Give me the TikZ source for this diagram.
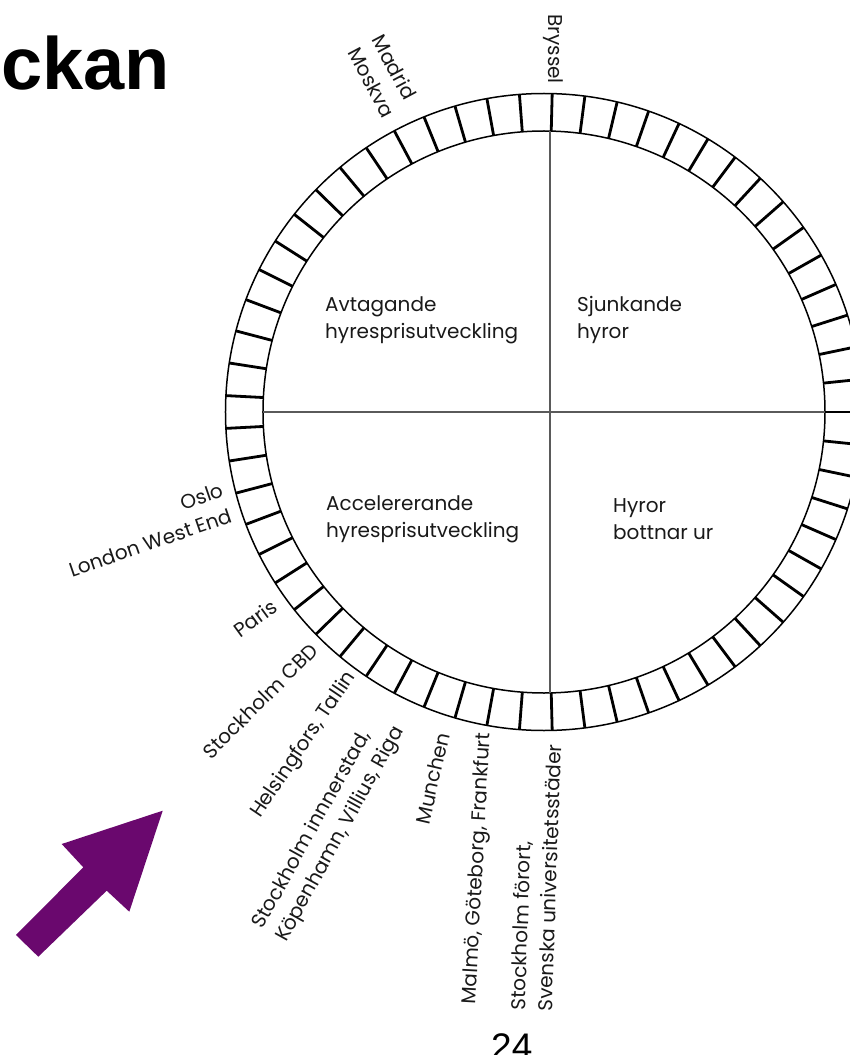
\documentclass[tikz,border=0pt]{standalone}
\usepackage{fontspec}
\setmainfont{Poppins}
\newfontfamily\headfont{Liberation Sans}
\usepackage{tikz}
\definecolor{arrowPurple}{RGB}{106,8,110}
\definecolor{crossGray}{RGB}{90,90,90}

\begin{document}
\begin{tikzpicture}[x=1pt,y=1pt,
	cityLabel/.style={inner sep=0pt,font=\fontsize{20}{27}\selectfont,text=black!90},
	phaseText/.style={inner sep=0pt,align=left,anchor=north west,font=\fontsize{20}{27}\selectfont,text=black!90},
	tickLine/.style={line width=2.8pt},
	ringLine/.style={line width=1.5pt},
	crossLine/.style={line width=1.1pt,crossGray}]

\useasboundingbox (-544,-643) rectangle (306,412);

\coordinate (c) at (0,0);
\draw[ringLine] (c) circle (281);
\draw[ringLine] (c) circle (318.5);
\foreach \i in {0,...,60}
	\draw[tickLine] ({\i*5.90164}:281) -- ({\i*5.90164}:318.5);

\draw[crossLine] (6,281) -- (6,-281);
\draw[crossLine] (180:281) -- (0:281);

\node[phaseText] (avtagande) at (-219,116) {Avtagande\\hyresprisutveckling};
\node[phaseText] (sjunkande) at (33,116) {Sjunkande\\hyror};
\node[phaseText] (accelererande) at (-218,-83) {Accelererande\\hyresprisutveckling};
\node[phaseText] (bottnar) at (69,-86) {Hyror\\bottnar ur};

\node[cityLabel,anchor=east,rotate=-90] (bryssel) at (9,328) {Bryssel};
\node[cityLabel,align=left,rotate=-62] (madrid) at (-160,336) {Madrid\\Moskva};
\node[cityLabel,align=right,anchor=east,rotate=19] (oslo) at (-317,-90) {Oslo\\London West End};
\node[cityLabel,anchor=east,rotate=36] (paris) at (-269,-192) {Paris};
\node[cityLabel,anchor=east,rotate=45] (sthlmCbd) at (-230,-235) {Stockholm CBD};
\node[cityLabel,anchor=east,rotate=56] (helsingfors) at (-192,-262) {Helsingfors, Tallin};
\node[cityLabel,align=left,rotate=61] (innerstad) at (-215,-416) {Stockholm innnerstad,\\Köpenhamn, Villius, Riga};
\node[cityLabel,anchor=east,rotate=77] (munchen) at (-101,-321) {Munchen};
\node[cityLabel,anchor=east,rotate=87] (malmo) at (-59,-321) {Malmö, Göteborg, Frankfurt};
\node[cityLabel,align=left,anchor=west,rotate=88] (forort) at (-13,-599) {Stockholm förort,\\Svenska universitetsstäder};

\node[inner sep=0pt,anchor=base east,font=\headfont\bfseries\fontsize{74}{80}\selectfont] (title) at (-374,322) {ckan};
\node[inner sep=0pt,anchor=base west,font=\headfont\fontsize{37}{40}\selectfont] (pageNo) at (-53,-647) {24};

\fill[arrowPurple] (-528,-523) -- (-460.7,-455.3) -- (-482.3,-432) -- (-381.3,-398.7) -- (-414.7,-499.7) -- (-437.3,-478.7) -- (-505.7,-544.7) -- cycle;

\end{tikzpicture}
\end{document}
